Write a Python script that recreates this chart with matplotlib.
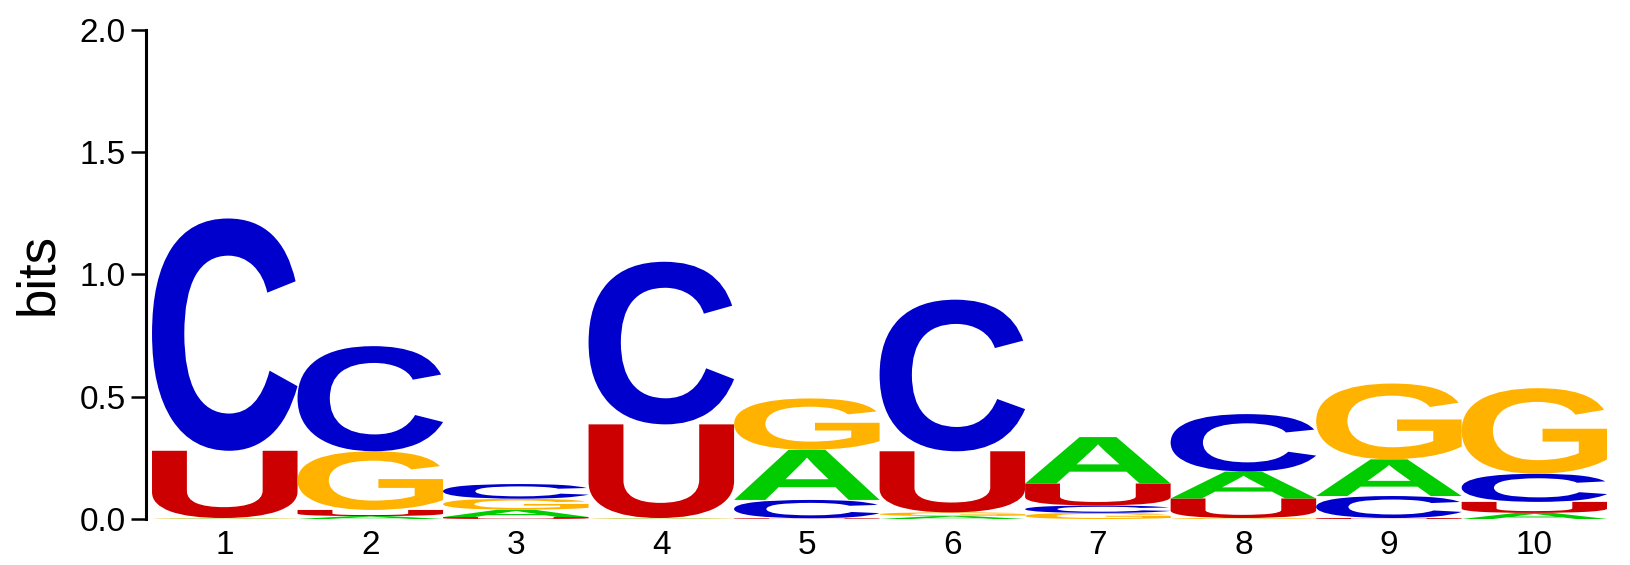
import matplotlib
matplotlib.use("Agg")
import matplotlib.pyplot as plt
from matplotlib.textpath import TextPath
from matplotlib.font_manager import FontProperties
from matplotlib.patches import PathPatch
from matplotlib.transforms import Affine2D

# --------------------------------------------------
# Logo data: information (bits) per letter per position
# --------------------------------------------------
positions = [1, 2, 3, 4, 5, 6, 7, 8, 9, 10]
heights_A = [0.002, 0.012, 0.030, 0.002, 0.205, 0.012, 0.190, 0.110, 0.150, 0.025]
heights_C = [0.950, 0.430, 0.060, 0.665, 0.075, 0.620, 0.030, 0.235, 0.090, 0.115]
heights_G = [0.002, 0.240, 0.045, 0.002, 0.210, 0.015, 0.025, 0.004, 0.310, 0.350]
heights_U = [0.275, 0.025, 0.008, 0.383, 0.003, 0.250, 0.090, 0.080, 0.004, 0.045]

colors = {"A": "#00CC00", "C": "#0000CC", "G": "#FFB300", "U": "#CC0000"}
font = FontProperties(family="Liberation Sans", weight="bold")

fig = plt.figure(figsize=(16.3, 5.65), dpi=100)
ax = fig.add_axes([0.0896, 0.0814, 0.8964, 0.8656])


def draw_letter(ax, letter, x, y, w, h, color):
    # scale the glyph so it fills the box exactly
    tp = TextPath((0, 0), letter, size=1, prop=font)
    ext = tp.get_extents()
    tr = (Affine2D()
          .translate(-ext.x0, -ext.y0)
          .scale(w / ext.width, h / ext.height)
          .translate(x, y))
    patch = PathPatch(tr.transform_path(tp), facecolor=color, edgecolor="none")
    ax.add_patch(patch)


for i, pos in enumerate(positions):
    col = {"A": heights_A[i], "C": heights_C[i],
           "G": heights_G[i], "U": heights_U[i]}
    bottom = 0.0
    for letter, h in sorted(col.items(), key=lambda kv: kv[1]):
        draw_letter(ax, letter, pos - 0.5, bottom, 1.0, h, colors[letter])
        bottom += h

ax.set_xlim(0.459, 10.5)
ax.set_ylim(0, 2.0)
ax.set_yticks([0, 0.5, 1.0, 1.5, 2.0])
ax.set_yticklabels(["0.0", "0.5", "1.0", "1.5", "2.0"])
ax.set_xticks(positions)
ax.set_xticklabels([str(p) for p in positions])
ax.tick_params(axis="y", labelsize=24, length=11, width=1.8, pad=3.5)
ax.tick_params(axis="x", labelsize=24, length=0, pad=8)
ax.set_ylabel("bits", fontsize=38, labelpad=12)

for s in ["top", "right", "bottom"]:
    ax.spines[s].set_visible(False)
ax.spines["left"].set_linewidth(2.2)

for t in ax.get_xticklabels() + ax.get_yticklabels():
    t.set_family("Liberation Sans")
ax.yaxis.label.set_family("Liberation Sans")

fig.savefig("out.png", dpi=100)
